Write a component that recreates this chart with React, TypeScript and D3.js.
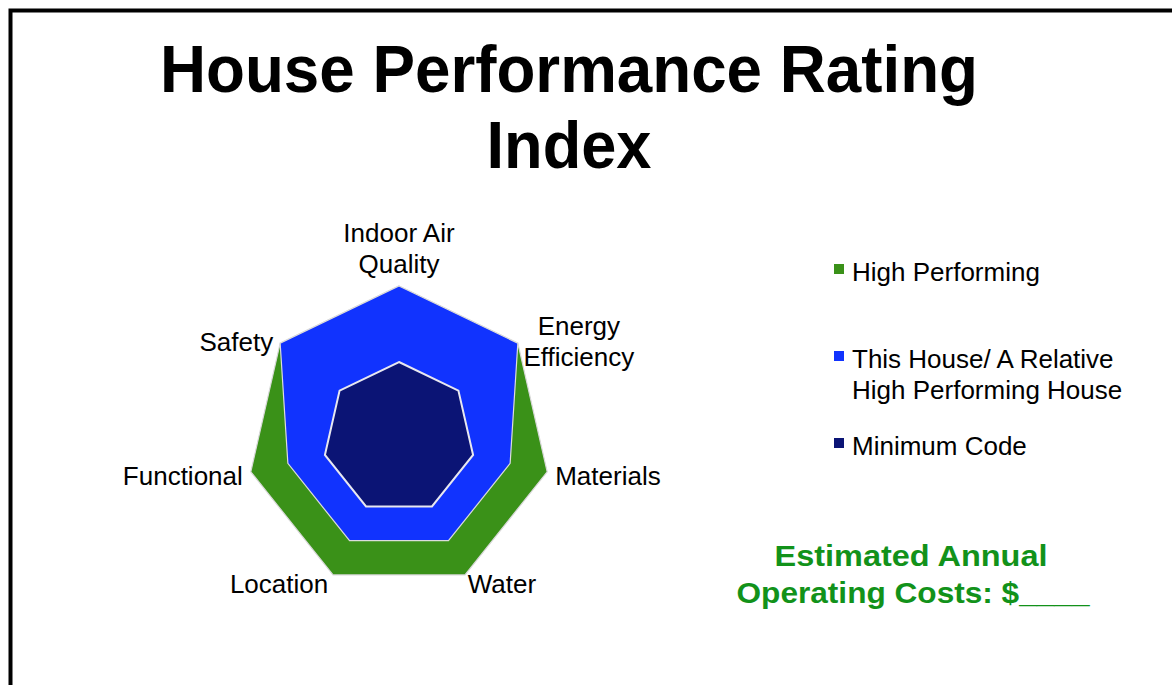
import React from "react";
import * as d3 from "d3";

const categories = ["Indoor Air|Quality", "Energy|Efficiency", "Materials", "Water", "Location", "Functional", "Safety"];
const highPerforming = [10, 10, 10, 10, 10, 10, 10];
const thisHouse = [10, 10, 7.5, 7.5, 7.5, 7.5, 10];
const minimumCode = [5, 5, 5, 5, 5, 5, 5];
const legendLabels = ["High Performing", "This House/ A Relative|High Performing House", "Minimum Code"];
const titleLines = ["House Performance Rating", "Index"];
const costLines = ["Estimated Annual", "Operating Costs: $____"];

const W = 1172;
const H = 685;
const CX = 399;
const CY = 438;
const FONT = "'Liberation Sans', Arial, Helvetica, sans-serif";

// label placement relative to each axis vertex (style only); dy is the last line's baseline
const labelStyle = [
  { dx: 0, dy: -13, anchor: "middle" },
  { dx: 61, dy: 23, anchor: "middle" },
  { dx: 8, dy: 13, anchor: "start" },
  { dx: 37, dy: 18, anchor: "middle" },
  { dx: -54, dy: 18, anchor: "middle" },
  { dx: -8, dy: 13, anchor: "end" },
  { dx: -7, dy: 8, anchor: "end" },
];

export default function App() {
  const r = d3.scaleLinear().domain([0, 10]).range([0, 152]);
  const n = categories.length;
  const angle = (i: number) => (i * 2 * Math.PI) / n;
  const line = d3
    .lineRadial<number>()
    .angle((_, i) => angle(i))
    .radius((d) => r(d))
    .curve(d3.curveLinearClosed);

  const vertex = (i: number, v: number) => {
    const a = angle(i);
    return [r(v) * Math.sin(a), -r(v) * Math.cos(a)];
  };

  const series = [
    { values: highPerforming, fill: "#3a9118", stroke: "#d8d8d8", sw: 1.2 },
    { values: thisHouse, fill: "#1133fe", stroke: "#dcdcdc", sw: 1.2 },
    { values: minimumCode, fill: "#0b1475", stroke: "#e8e8f0", sw: 2 },
  ];
  const legendColors = ["#3a9118", "#1133fe", "#0b1475"];
  const legendY = [281, 368, 455];

  return (
    <svg
      width={W}
      height={H}
      style={{ position: "absolute", left: 0, top: 0, background: "#fff" }}
      fontFamily={FONT}
    >
      <rect x={0} y={0} width={W} height={H} fill="#fff" />
      <rect x={10.5} y={10.5} width={W + 20} height={H + 20} fill="none" stroke="#000" strokeWidth={4} />

      {/* title */}
      <text x={569} y={92} textAnchor="middle" fontSize={66} fontWeight="bold" fill="#000" textLength={818} lengthAdjust="spacingAndGlyphs">
        {titleLines[0]}
      </text>
      <text x={569} y={168} textAnchor="middle" fontSize={66} fontWeight="bold" fill="#000" textLength={165} lengthAdjust="spacingAndGlyphs">
        {titleLines[1]}
      </text>

      {/* radar */}
      <g transform={`translate(${CX},${CY})`}>
        {series.map((s, k) => (
          <path key={k} d={line(s.values) || ""} fill={s.fill} stroke={s.stroke} strokeWidth={s.sw} strokeLinejoin="miter" />
        ))}
        {categories.map((c, i) => {
          const [vx, vy] = vertex(i, 10);
          const st = labelStyle[i];
          const lines = c.split("|");
          return (
            <text
              key={c}
              x={vx + st.dx}
              y={vy + st.dy - (lines.length - 1) * 31}
              textAnchor={st.anchor}
              fontSize={26}
              fill="#000"
            >
              {lines.map((l, j) => (
                <tspan key={j} x={vx + st.dx} dy={j === 0 ? 0 : 31}>
                  {l}
                </tspan>
              ))}
            </text>
          );
        })}
      </g>

      {/* legend */}
      {legendLabels.map((l, i) => {
        const lines = l.split("|");
        return (
          <g key={l}>
            <rect x={834} y={legendY[i] - 17} width={10} height={10} fill={legendColors[i]} />
            <text x={852} y={legendY[i]} fontSize={26} fill="#000">
              {lines.map((t, j) => (
                <tspan key={j} x={852} dy={j === 0 ? 0 : 31}>
                  {t}
                </tspan>
              ))}
            </text>
          </g>
        );
      })}

      {/* operating cost */}
      <text x={911} y={566} textAnchor="middle" fontSize={29} fontWeight="bold" fill="#12921a" textLength={273} lengthAdjust="spacingAndGlyphs">
        {costLines[0]}
      </text>
      <text x={913} y={603} textAnchor="middle" fontSize={29} fontWeight="bold" fill="#12921a" textLength={353} lengthAdjust="spacingAndGlyphs">
        {costLines[1]}
      </text>
    </svg>
  );
}
